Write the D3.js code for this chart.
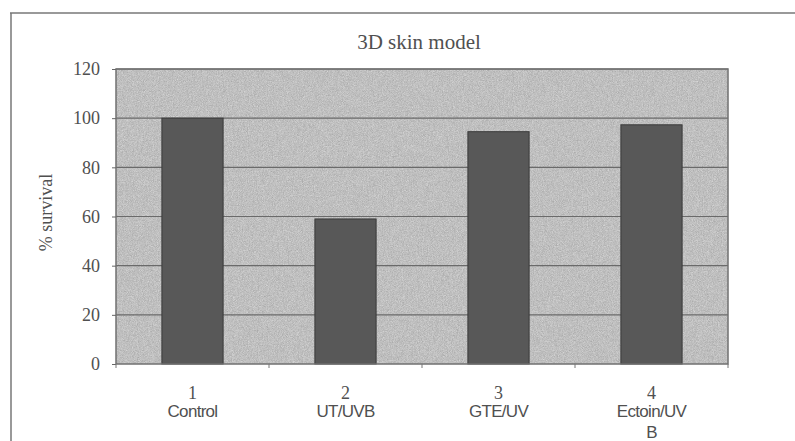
<!DOCTYPE html>
<html>
<head>
<meta charset="utf-8">
<script src="https://cdn.jsdelivr.net/npm/d3@7"></script>
<style>
  body { margin: 0; background: #fff; }
  .axis text { font-family: "Liberation Serif", "DejaVu Serif", serif; font-size: 18px; fill: #505050; }
  .axis path, .axis line { stroke: #666; }
</style>
</head>
<body>
<div class="chart"></div>
<script>
// data
const categories = ['1', '2', '3', '4'];
const groupNames = [['Control'], ['UT/UVB'], ['GTE/UV'], ['Ectoin/UV', 'B']];
const survival = [100, 59, 94.5, 97.3];
const yTicks = [0, 20, 40, 60, 80, 100, 120];

const W = 795, H = 441;
const margin = ({top: 69, right: 67, bottom: 77, left: 116});
const width = W - margin.left - margin.right;
const height = H - margin.top - margin.bottom;

const svg = d3.select('.chart').append('svg')
    .attr('width', W)
    .attr('height', H);

// speckled background texture
const defs = svg.append('defs');
const filt = defs.append('filter').attr('id', 'grain')
    .attr('x', 0).attr('y', 0).attr('width', 1).attr('height', 1)
    .attr('color-interpolation-filters', 'sRGB');
filt.append('feTurbulence').attr('type', 'fractalNoise').attr('baseFrequency', 1.2).attr('numOctaves', 2).attr('seed', 3).attr('result', 'n');
filt.append('feColorMatrix').attr('in', 'n').attr('type', 'saturate').attr('values', 0).attr('result', 'gn');
filt.append('feComponentTransfer').attr('in', 'gn').attr('result', 'g')
    .call(t => {
        t.append('feFuncR').attr('type', 'linear').attr('slope', 0.3).attr('intercept', 0.6);
        t.append('feFuncG').attr('type', 'linear').attr('slope', 0.3).attr('intercept', 0.6);
        t.append('feFuncB').attr('type', 'linear').attr('slope', 0.3).attr('intercept', 0.6);
        t.append('feFuncA').attr('type', 'linear').attr('slope', 0).attr('intercept', 1);
    });

// outer frame (top and left only visible)
svg.append('line').attr('x1', 10).attr('x2', 795).attr('y1', 13).attr('y2', 13)
    .attr('stroke', '#777').attr('stroke-width', 1.5);
svg.append('line').attr('x1', 11).attr('x2', 11).attr('y1', 13).attr('y2', H)
    .attr('stroke', '#777').attr('stroke-width', 1.5);

const g = svg.append('g')
    .attr('transform', "translate(" + margin.left + "," + margin.top + ")");

//scales
const xScale = d3.scaleBand()
    .domain(categories)
    .range([0, width])
    .paddingInner(0.6)
    .paddingOuter(0.3);

const yScale = d3.scaleLinear()
    .domain([0, 120])
    .range([height, 0]);

// plot area
g.append('rect')
    .attr('width', width)
    .attr('height', height)
    .attr('fill', '#c0c0c0')
    .attr('filter', 'url(#grain)');

// gridlines
g.selectAll('.grid')
    .data(yTicks.slice(1))
    .enter()
    .append('line')
    .attr('x1', 0)
    .attr('x2', width)
    .attr('y1', d => yScale(d))
    .attr('y2', d => yScale(d))
    .attr('stroke', '#6a6a6a')
    .attr('stroke-width', 1.2);

// bars
g.selectAll('.bar')
    .data(survival)
    .enter()
    .append('rect')
    .attr('x', (d, i) => xScale(categories[i]))
    .attr('y', d => yScale(d))
    .attr('width', xScale.bandwidth())
    .attr('height', d => height - yScale(d))
    .attr('fill', '#585858')
    .attr('stroke', '#3a3a3a')
    .attr('stroke-width', 1);

// plot border
g.append('rect')
    .attr('width', width)
    .attr('height', height)
    .attr('fill', 'none')
    .attr('stroke', '#707070')
    .attr('stroke-width', 1.5);

// axes
const yAxis = d3.axisLeft(yScale).tickValues(yTicks).tickSize(4).tickPadding(12);
g.append('g').attr('class', 'axis y-axis').call(yAxis)
    .call(a => a.select('.domain').remove());

// x tick marks between categories
g.selectAll('.xtick')
    .data(d3.range(categories.length + 1))
    .enter()
    .append('line')
    .attr('x1', i => i * width / categories.length)
    .attr('x2', i => i * width / categories.length)
    .attr('y1', height)
    .attr('y2', height + 4)
    .attr('stroke', '#777');

// x labels
const xl = g.selectAll('.xlabel')
    .data(categories)
    .enter()
    .append('g')
    .attr('transform', d => "translate(" + (xScale(d) + xScale.bandwidth() / 2) + "," + height + ")");

xl.append('text')
    .attr('y', 35)
    .attr('text-anchor', 'middle')
    .attr('font-family', '"Liberation Serif", serif')
    .attr('font-size', 18)
    .attr('fill', '#505050')
    .text(d => d);

xl.each(function(d, i) {
    groupNames[i].forEach((line, j) => {
        d3.select(this).append('text')
            .attr('y', 53 + j * 21)
            .attr('text-anchor', 'middle')
            .attr('font-family', '"Liberation Sans", Arial, sans-serif')
            .attr('font-size', 17)
            .attr('letter-spacing', -0.7)
            .attr('fill', '#505050')
            .text(line);
    });
});

// title
svg.append('text')
    .attr('x', margin.left + width / 2 - 3)
    .attr('y', 49)
    .attr('text-anchor', 'middle')
    .attr('font-family', '"Liberation Serif", serif')
    .attr('font-size', 21)
    .attr('fill', '#505050')
    .text('3D skin model');

// y label
svg.append('text')
    .attr('transform', "translate(52," + (margin.top + height / 2 - 4) + ") rotate(-90)")
    .attr('text-anchor', 'middle')
    .attr('font-family', '"Liberation Serif", serif')
    .attr('font-size', 18)
    .attr('fill', '#505050')
    .text('% survival');
</script>
</body>
</html>
